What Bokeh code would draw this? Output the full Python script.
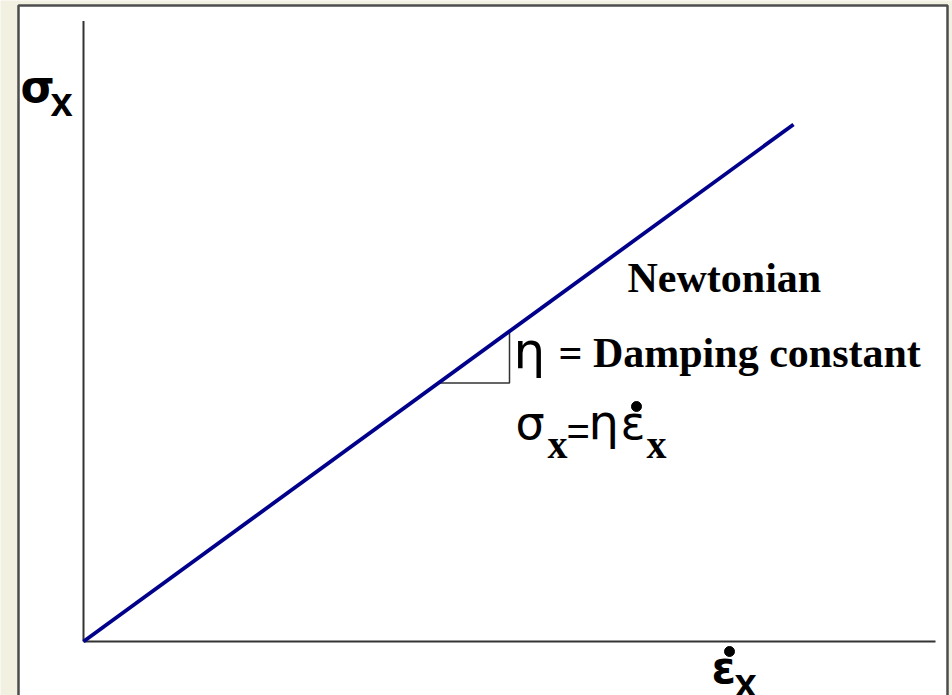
from bokeh.plotting import figure
from bokeh.models import Range1d, Label
from bokeh.embed import file_html
from bokeh.resources import INLINE

# Newtonian dashpot: stress grows linearly with strain rate
strain_rate = [0.0, 10.0]
stress = [0.0, 10.0]

# slope triangle marking the damping constant
triangle_rate = [5.0, 6.0, 6.0]
triangle_stress = [5.0, 5.0, 6.0]

# extent of the hand-drawn axes
axis_max = 12.0

# page geometry: where the origin sits and how many pixels one unit spans
W, H = 952, 695
ORIGIN_PX = (83.0, 641.0)
PX_PER_X = 71.0
PX_PER_Y = 51.7


def dx(px):
    return (px - ORIGIN_PX[0]) / PX_PER_X


def dy(py):
    return (ORIGIN_PX[1] - py) / PX_PER_Y


BEIGE = "#f2f0e1"
INK = "#000000"
BLUE = "#00008b"

p = figure(
    width=W, height=H,
    x_range=Range1d(dx(0), dx(W)), y_range=Range1d(dy(H), dy(0)),
    x_axis_location=None, y_axis_location=None,
    toolbar_location=None, output_backend="svg",
    min_border=0, outline_line_color=None,
    background_fill_color=BEIGE, border_fill_color=BEIGE,
)
for g in p.grid:
    g.visible = False

# white slide panel with a dark frame
p.quad(left=[dx(18)], right=[dx(947)], top=[dy(5)], bottom=[dy(740)],
       fill_color="white", line_color="#4d4d4d", line_width=2.5)

# axes drawn as plain lines
p.line([0, 0], [0, axis_max], line_color="#333333", line_width=2)
p.line([0, axis_max], [0, 0], line_color="#333333", line_width=2)

# slope triangle
p.line(triangle_rate, triangle_stress, line_color="#333333", line_width=1.5)

# stress vs. strain-rate line
p.line(strain_rate, stress, line_color=BLUE, line_width=3.8)


def add_text(px, py, text, font, size, bold=False):
    # py is the baseline in page pixels; lift by the renderer's baseline drop
    p.add_layout(Label(
        x=dx(px), y=dy(py - 0.36 * size), text=text,
        text_font=font, text_font_size=f"{size}px",
        text_font_style="bold" if bold else "normal",
        text_color=INK, text_align="left", text_baseline="alphabetic",
    ))


GREEK = "DejaVu Sans"
SANS = "Liberation Sans"
SERIF = "Liberation Serif"

# axis titles
add_text(20, 102, "σ", GREEK, 44, bold=True)
add_text(50, 116, "x", SANS, 40, bold=True)
add_text(711, 683, "ε", GREEK, 44, bold=True)
add_text(734, 697, "x", SANS, 40, bold=True)

# annotations
add_text(627, 293, "Newtonian", SERIF, 42, bold=True)
add_text(513, 368, "η", GREEK, 50)
add_text(558, 368, "= Damping constant", SERIF, 42, bold=True)

# constitutive law
add_text(515, 439, "σ", GREEK, 46)
add_text(547, 458, "x", SERIF, 40, bold=True)
add_text(566, 445, "=", SANS, 40)
add_text(588, 439, "η", GREEK, 48)
add_text(620, 439, "ε", GREEK, 46)
add_text(646, 458, "x", SERIF, 40, bold=True)

# rate dots over the epsilons
p.scatter([dx(729), dx(636)], [dy(651), dy(406)], size=10,
          marker="circle", fill_color=INK, line_color=INK)

open("out.html", "w").write(file_html(p, INLINE))
